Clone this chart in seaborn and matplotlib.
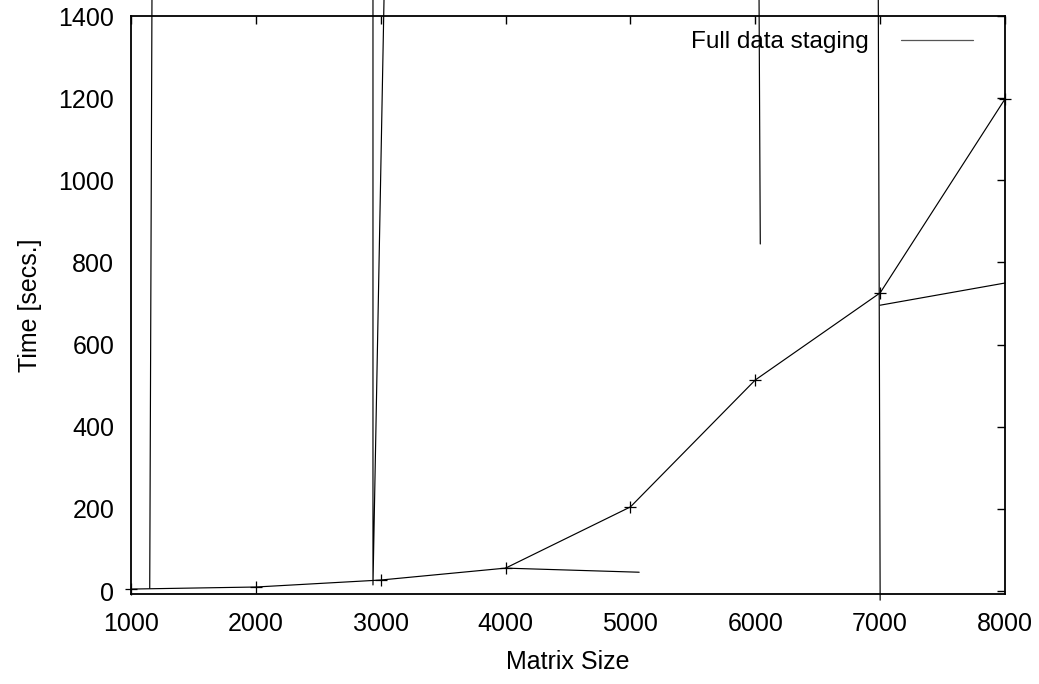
import pandas as pd
import seaborn as sns
import matplotlib.pyplot as plt
from matplotlib.lines import Line2D

# Full data staging run times
matrix_sizes = [1000, 2000, 3000, 4000, 5000, 6000, 7000, 8000]
staging_times = [5, 10, 27, 56, 205, 514, 726, 1198]

# Stray line segments of the second (untitled) series
seg_ids = [1, 1, 2, 2, 2, 3, 3, 4, 4, 5, 5, 6, 6]
seg_x = [1150, 1168, 2938, 2938, 3027, 4000, 5070, 6030, 6040, 6985, 7000, 7000, 8000]
seg_y = [7, 1450, 1450, 15, 1450, 56, 46, 1450, 845, 1450, -22, 696, 750]

x_ticks = [1000, 2000, 3000, 4000, 5000, 6000, 7000, 8000]
y_ticks = [0, 200, 400, 600, 800, 1000, 1200, 1400]

sns.set_style("white")
plt.rcParams['font.family'] = ['Liberation Sans', 'DejaVu Sans']
plt.rcParams['text.color'] = 'black'
plt.rcParams['axes.labelcolor'] = 'black'

fig = plt.figure(figsize=(10.39, 6.84), dpi=100)
ax = fig.add_axes([131 / 1039, 90 / 684, 874 / 1039, 578 / 684])

df_main = pd.DataFrame({'size': matrix_sizes, 'time': staging_times})
df_seg = pd.DataFrame({'seg': seg_ids, 'size': seg_x, 'time': seg_y})

sns.lineplot(data=df_seg, x='size', y='time', units='seg', estimator=None,
             sort=False, color='black', linewidth=0.85, ax=ax)
sns.lineplot(data=df_main, x='size', y='time', color='black', linewidth=0.85,
             marker='+', markersize=8, markeredgewidth=0.9,
             markeredgecolor='black', ax=ax)

# let the stray lines run past the frame like the original
for line in ax.lines:
    line.set_clip_on(False)

ax.set_xlim(1000, 8000)
ax.set_ylim(-7, 1400)
ax.set_xticks(x_ticks)
ax.set_yticks(y_ticks)
ax.tick_params(direction='in', length=6, width=1, labelsize=18,
               top=True, right=True, colors='black')
ax.tick_params(axis='x', pad=13)
ax.tick_params(axis='y', pad=12)
for side in ax.spines.values():
    side.set_linewidth(1.3)
    side.set_color('black')

ax.set_xlabel('Matrix Size', fontsize=18, labelpad=10)
ax.set_ylabel('Time [secs.]', fontsize=18, labelpad=11.5)

handle = Line2D([], [], color='#555555', linewidth=0.9)
ax.legend([handle], ['Full data staging'], loc='upper right',
          bbox_to_anchor=(973 / 1039, 653 / 684), bbox_transform=fig.transFigure,
          frameon=False, markerfirst=False, fontsize=17.5, handlelength=2.95,
          handletextpad=1.35, borderpad=0, borderaxespad=0)

fig.savefig('out.png', dpi=100)
